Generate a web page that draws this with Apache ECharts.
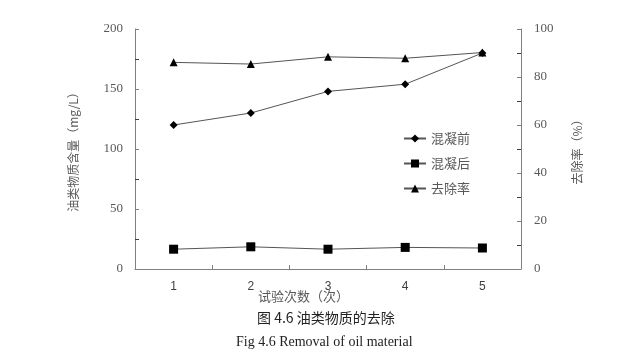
<!DOCTYPE html>
<html>
<head>
<meta charset="utf-8">
<script src="https://cdn.jsdelivr.net/npm/echarts@6/dist/echarts.min.js"></script>
<style>html,body{margin:0;padding:0;background:#fff;}#c{width:641px;height:355px;}</style>
</head>
<body>
<div id="c"></div>
<script>
var categories = ['1', '2', '3', '4', '5'];
var before = [120, 130, 148, 154, 180];
var after = [16.5, 18.5, 16.5, 18, 17.5];
var removal = [86.1, 85.4, 88.4, 87.8, 90.2];
var names = ['混凝前', '混凝后', '去除率'];

var gray = '#595959';
var chart = echarts.init(document.getElementById('c'));
chart.setOption({
  animation: false,
  backgroundColor: '#fff',
  grid: { left: 135, right: 120, top: 29, bottom: 86 },
  legend: {
    orient: 'vertical', left: 398, top: 127, itemGap: 12, itemWidth: 22, itemHeight: 10,
    textStyle: { fontFamily: 'Noto Sans CJK SC', fontSize: 13, color: gray },
    data: names
  },
  xAxis: {
    type: 'category', data: categories, boundaryGap: true,
    axisLine: { lineStyle: { color: '#808080', width: 1 } },
    axisTick: { show: true, inside: true, length: 4, lineStyle: { color: '#808080' } },
    axisLabel: { margin: 12, fontFamily: 'Liberation Sans', fontSize: 12, color: '#404040' }
  },
  yAxis: [{
    type: 'value', min: 0, max: 200, interval: 50,
    name: '油类物质含量（mg/L）', nameLocation: 'middle', nameGap: 56, nameRotate: 90,
    nameTextStyle: { fontFamily: 'Noto Sans CJK SC', fontSize: 12, color: gray },
    axisLine: { show: true, lineStyle: { color: '#808080' } },
    axisTick: { show: true, inside: true, length: 4, lineStyle: { color: '#808080' } },
    minorTick: { show: true, splitNumber: 2, length: 4, lineStyle: { color: '#404040' } },
    splitLine: { show: false },
    axisLabel: { margin: 12, fontFamily: 'Liberation Serif', fontSize: 13, color: gray }
  }, {
    type: 'value', min: 0, max: 100, interval: 20,
    name: '去除率（%）', nameLocation: 'middle', nameGap: 50, nameRotate: 90,
    nameTextStyle: { fontFamily: 'Noto Sans CJK SC', fontSize: 12, color: gray },
    axisLine: { show: true, lineStyle: { color: '#808080' } },
    axisTick: { show: true, inside: true, length: 4, lineStyle: { color: '#808080' } },
    minorTick: { show: true, splitNumber: 2, length: 4, lineStyle: { color: '#404040' } },
    splitLine: { show: false },
    axisLabel: { margin: 13, fontFamily: 'Liberation Serif', fontSize: 13, color: gray }
  }],
  series: [{
    name: names[0], type: 'line', yAxisIndex: 0, data: before,
    symbol: 'diamond', symbolSize: 8,
    lineStyle: { color: '#555', width: 1 }, itemStyle: { color: '#000' }
  }, {
    name: names[1], type: 'line', yAxisIndex: 0, data: after,
    symbol: 'rect', symbolSize: 9,
    lineStyle: { color: '#555', width: 1 }, itemStyle: { color: '#000' }
  }, {
    name: names[2], type: 'line', yAxisIndex: 1, data: removal,
    symbol: 'triangle', symbolSize: 8,
    lineStyle: { color: '#555', width: 1 }, itemStyle: { color: '#000' }
  }],
  graphic: [{
    type: 'text', left: 258, top: 290,
    style: { text: '试验次数（次）', font: '13px "Noto Sans CJK SC"', fill: gray }
  }, {
    type: 'text', left: 257, top: 311,
    style: { text: '图 4.6 油类物质的去除', font: '14px "Noto Sans CJK SC"', fill: '#222' }
  }, {
    type: 'text', left: 236, top: 335,
    style: { text: 'Fig 4.6 Removal of oil material', font: '14px "Liberation Serif"', fill: '#222' }
  }]
});
</script>
</body>
</html>
